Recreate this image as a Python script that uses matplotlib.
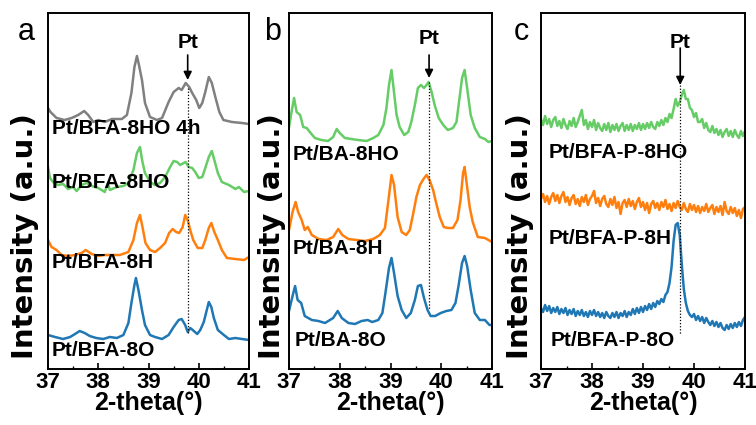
import numpy as np
import matplotlib
matplotlib.use("Agg")
import matplotlib.pyplot as plt

plt.rcParams['font.family'] = ['Liberation Sans', 'DejaVu Sans']

# ---- panel a : Pt/BFA samples (2-theta, intensity a.u.) ----
a_gray_x = [37.0, 37.05, 37.17, 37.33, 37.47, 37.6, 37.72, 37.8, 37.9, 38.0, 38.13, 38.27, 38.47, 38.57,
            38.66, 38.72, 38.77, 38.81, 38.87, 38.93, 39.03, 39.17, 39.27, 39.4, 39.5, 39.6, 39.66, 39.74,
            39.81, 39.87, 39.95, 40.01, 40.07, 40.13, 40.2, 40.26, 40.33, 40.41, 40.49, 40.66, 40.86, 41.0]
a_gray_y = [12, 8, 2, 0, 2, 5, 9, 5, -2, 0, -2, 1, 1, 5,
            27, 53, 64, 55, 40, 17, 3, 0, 2, 18, 28, 32, 30, 37,
            33, 27, 20, 12, 17, 28, 43, 37, 23, 8, 0, -2, -3, -4]

a_green_x = [37.0, 37.04, 37.1, 37.2, 37.3, 37.4, 37.5, 37.57, 37.67, 37.77, 37.87, 38.0, 38.13, 38.19,
             38.23, 38.37, 38.5, 38.6, 38.7, 38.77, 38.83, 38.88, 38.93, 39.03, 39.13, 39.23, 39.33, 39.43,
             39.5, 39.57, 39.63, 39.7, 39.74, 39.8, 39.87, 39.93, 40.0, 40.07, 40.13, 40.2, 40.26, 40.31,
             40.38, 40.46, 40.6, 40.73, 40.8, 40.9, 41.0]
a_green_y = [23, 12, 8, 5, 6, 1, 3, -1, 5, 7, 4, 2, -2, 7,
             0, 3, 4, 7, 20, 37, 43, 28, 17, 8, 5, 7, 13, 23,
             29, 28, 25, 27, 28, 23, 22, 18, 12, 13, 22, 33, 39, 30,
             17, 8, 5, 1, 3, -2, -1]

a_orange_x = [37.0, 37.07, 37.17, 37.27, 37.4, 37.54, 37.67, 37.75, 37.87, 38.0, 38.13, 38.27, 38.43, 38.6,
              38.7, 38.77, 38.83, 38.88, 38.94, 39.03, 39.13, 39.23, 39.33, 39.41, 39.48, 39.55, 39.61, 39.68,
              39.73, 39.78, 39.83, 39.89, 39.98, 40.07, 40.13, 40.2, 40.25, 40.31, 40.38, 40.46, 40.56, 40.73,
              40.9, 41.0]
a_orange_y = [18, 11, 8, 3, 2, 3, 5, 8, 4, 2, 3, 3, 3, 6,
              18, 35, 43, 31, 15, 8, 6, 10, 15, 25, 29, 26, 25, 31,
              43, 38, 28, 18, 10, 10, 18, 30, 35, 26, 18, 8, 0, -1,
              -2, 1]

a_blue_x = [37.0, 37.14, 37.3, 37.44, 37.57, 37.63, 37.73, 37.83, 37.96, 38.1, 38.23, 38.37, 38.5, 38.6,
            38.66, 38.72, 38.75, 38.8, 38.87, 38.93, 39.03, 39.13, 39.27, 39.4, 39.5, 39.6, 39.66, 39.73,
            39.78, 39.83, 39.88, 39.97, 40.03, 40.1, 40.16, 40.2, 40.25, 40.3, 40.38, 40.5, 40.6, 40.73,
            40.86, 41.0]
a_blue_y = [4, 2, 0, 2, 6, 8, 6, 3, 1, 0, 2, 1, 4, 16,
            36, 54, 61, 49, 29, 14, 4, 2, 0, 4, 12, 19, 20, 14,
            7, 11, 9, 5, 9, 17, 29, 37, 32, 21, 9, 4, 0, 1,
            0, -1]

# ---- panel b : Pt/BA samples ----
b_green_x = [37.0, 37.05, 37.1, 37.15, 37.22, 37.28, 37.35, 37.41, 37.51, 37.64, 37.77, 37.87, 37.94, 38.0,
             38.1, 38.23, 38.36, 38.53, 38.66, 38.76, 38.86, 38.92, 38.97, 39.02, 39.06, 39.12, 39.18, 39.27,
             39.35, 39.41, 39.48, 39.54, 39.6, 39.66, 39.71, 39.75, 39.81, 39.87, 39.95, 40.04, 40.13, 40.23,
             40.3, 40.36, 40.41, 40.46, 40.51, 40.58, 40.66, 40.76, 40.86, 40.93, 41.0]
b_green_y = [13, 28, 42, 28, 25, 13, 12, 8, 2, 0, -1, 3, 11, 7,
             2, 1, 0, -1, 2, 5, 15, 32, 55, 70, 52, 25, 13, 5,
             8, 18, 35, 52, 55, 52, 55, 58, 48, 35, 22, 15, 10, 12,
             18, 42, 62, 70, 52, 25, 12, 3, 1, -2, -1]

b_orange_x = [37.0, 37.07, 37.13, 37.18, 37.25, 37.31, 37.37, 37.45, 37.58, 37.74, 37.87, 37.97, 38.05, 38.17,
              38.33, 38.5, 38.66, 38.79, 38.89, 38.96, 39.02, 39.07, 39.14, 39.22, 39.31, 39.38, 39.45, 39.51,
              39.58, 39.65, 39.71, 39.77, 39.84, 39.9, 39.97, 40.05, 40.13, 40.23, 40.32, 40.38, 40.43, 40.46,
              40.51, 40.56, 40.62, 40.72, 40.86, 41.0]
b_orange_y = [10, 28, 38, 28, 20, 10, 13, 5, 1, 0, 3, 11, 5, 1,
              0, -1, 1, 5, 12, 40, 65, 55, 23, 8, 5, 10, 27, 43,
              55, 61, 65, 60, 50, 37, 23, 13, 12, 12, 20, 40, 67, 73,
              53, 33, 18, 3, 2, -2]

b_blue_x = [37.0, 37.07, 37.12, 37.17, 37.24, 37.31, 37.45, 37.58, 37.71, 37.87, 37.96, 38.04, 38.17, 38.3,
            38.43, 38.55, 38.64, 38.76, 38.84, 38.9, 38.97, 39.02, 39.07, 39.14, 39.22, 39.31, 39.4, 39.48,
            39.54, 39.6, 39.66, 39.73, 39.79, 39.88, 39.99, 40.1, 40.2, 40.28, 40.34, 40.41, 40.46, 40.51,
            40.58, 40.66, 40.76, 40.86, 40.95, 41.0]
b_blue_y = [12, 27, 37, 23, 20, 7, 3, 2, 0, 5, 12, 5, 0, -1,
            2, 3, 1, 3, 10, 30, 55, 65, 50, 27, 13, 5, 10, 23,
            37, 38, 25, 13, 7, 7, 10, 12, 13, 20, 37, 60, 67, 57,
            33, 10, 3, 3, -2, -2]

# ---- panel c : Pt/BFA-P samples (step 0.04 deg, noisy) ----
c_green_y = [8, 2, 11, 3, 8, 0, 7, 10, 1, 6, -1, 8, 2, -2, 6, 1, 9, 0, 5, 11, 17, 2, 7, -2, 5,
             0, 7, -3, 4, -1, -4, 3, -3, 4, -5, 2, -3, 3, -4, 1, 4, -4, 2, -3, 3, -4, 2, -2, 4, -3,
             3, -2, 4, -1, 5, 0, -2, 5, 1, 7, 2, 9, 5, 13, 9, 18, 28, 21, 25, 32, 37, 28, 28, 19, 17,
             10, 14, 5, 5, 8, -1, 4, -3, -5, 1, -6, -2, -8, -3, -10, -5, -2, -9, -4, -10, -3, -8, -11, -4, -9,
             -4]
c_orange_y = [10, 15, 7, 13, 5, 12, 16, 8, 14, 6, 13, 17, 7, 12, 4, 11, 14, 5, 10, 3, 12, 7, 14, 4, 10,
              13, 18, 6, 11, 3, 10, 13, 5, 2, 10, 4, 12, 1, 7, -5, 6, 9, 2, 10, 3, 8, 0, 7, 11, 2,
              7, -1, 6, -4, 5, 8, 1, 6, -1, 7, 2, 9, 0, 5, -2, 6, 1, 8, 2, -1, 6, 0, -3, 5, -1,
              4, -3, 3, -4, 2, -2, 5, -3, 1, 4, -5, 2, -3, 3, -6, 7, -2, -5, 2, -4, 1, -7, -1, -9, 0,
              2]
c_blue_y = [11, 7, 14, 8, 13, 6, 11, 7, 12, 5, 10, 6, 11, 4, 9, 5, 10, 3, 8, 4, 9, 3, 7, 2, 8,
            4, 9, 3, 7, 2, 6, 1, 7, 3, 1, 6, 2, 7, 1, 6, 3, 8, 2, 7, 4, 10, 5, 11, 6, 12,
            7, 13, 9, 15, 10, 16, 12, 18, 15, 20, 17, 24, 27, 36, 52, 78, 94, 96, 84, 55, 30, 16, 8, 4, 2,
            5, -1, 3, -2, 2, -4, 1, -3, -6, -2, -7, -3, -8, -4, -9, -11, -6, -10, -5, -9, -4, -8, -3, -7, -1,
            2]

colors = {'gray': '#808080', 'green': '#66cc66', 'orange': '#ff7f0e', 'blue': '#1f77b4'}

panels = [
    dict(letter='a', left=48, width=201,
         curves=[(a_gray_x, a_gray_y, 'gray', 249), (a_green_x, a_green_y, 'green', 179),
                 (a_orange_x, a_orange_y, 'orange', 111), (a_blue_x, a_blue_y, 'blue', 30)],
         labels=[('Pt/BFA-8HO 4h', 37.08, 241), ('Pt/BFA-8HO', 37.08, 187),
                 ('Pt/BFA-8H', 37.08, 107), ('Pt/BFA-8O', 37.08, 19)],
         pt_x=39.78, arrow=(314, 289), dots=(281, 36), pt_y=327, ylab_x=25),
    dict(letter='b', left=289, width=203,
         curves=[(b_green_x, b_green_y, 'green', 229), (b_orange_x, b_orange_y, 'orange', 129),
                 (b_blue_x, b_blue_y, 'blue', 46)],
         labels=[('Pt/BA-8HO', 37.08, 215), ('Pt/BA-8H', 37.08, 121), ('Pt/BA-8O', 37.12, 29)],
         pt_x=39.76, arrow=(314, 291), dots=(287, 59), pt_y=331, ylab_x=272),
    dict(letter='c', left=541, width=204,
         curves=[(np.linspace(37, 41, len(c_green_y)), c_green_y, 'green', 242),
                 (np.linspace(37, 41, len(c_orange_y)), c_orange_y, 'orange', 160),
                 (np.linspace(37, 41, len(c_blue_y)), c_blue_y, 'blue', 50)],
         labels=[('Pt/BFA-P-8HO', 37.14, 216), ('Pt/BFA-P-8H', 37.14, 131), ('Pt/BFA-P-8O', 37.18, 29)],
         pt_x=39.73, arrow=(321, 284), dots=(284, 34), pt_y=326, ylab_x=520),
]

W, H = 756, 425
fig = plt.figure(figsize=(W / 100, H / 100), dpi=100)

for p in panels:
    ax = fig.add_axes([p['left'] / W, (H - 369) / H, p['width'] / W, 356 / H])
    for xs, ys, c, off in p['curves']:
        ax.plot(xs, np.array(ys) + off, color=colors[c], lw=1.8)
    for txt, x, y in p['labels']:
        ax.text(x, y, txt, fontsize=15, fontweight='bold', va='center', ha='left')
    # Pt marker
    ax.plot([p['pt_x'], p['pt_x']], p['dots'], color='k', lw=0.9, ls=(0, (1, 1.5)))
    ax.annotate('', xy=(p['pt_x'], p['arrow'][1]), xytext=(p['pt_x'], p['arrow'][0]),
                arrowprops=dict(arrowstyle='-|>', color='k', lw=1.2, mutation_scale=12,
                                shrinkA=0, shrinkB=0))
    ax.text(p['pt_x'], p['pt_y'], 'Pt', fontsize=15, fontweight='bold', ha='center', va='center')

    ax.set_xlim(37, 41)
    ax.set_ylim(0, 356)
    ax.set_yticks([])
    ax.set_xticks([37, 38, 39, 40, 41])
    ax.set_xticks(np.arange(37.5, 41, 1), minor=True)
    ax.tick_params(axis='x', which='major', direction='in', length=4, width=1.2, pad=2, labelsize=16)
    ax.tick_params(axis='x', which='minor', direction='in', length=2.5, width=1.0)
    for lab in ax.get_xticklabels():
        lab.set_fontweight('bold')
    for s in ax.spines.values():
        s.set_linewidth(1.4)
    ax.set_xlabel('2-theta(°)', fontsize=18, fontweight='bold', labelpad=-1)

    fig.text(p['ylab_x'] / W, (H - 236) / H, 'Intensity (a.u.)', rotation=90, fontsize=21,
             fontweight='bold', family='DejaVu Sans', ha='center', va='center')
    fig.text((p['ylab_x'] + 1) / W, (H - 32) / H, p['letter'], fontsize=22, ha='center', va='center')

fig.savefig('out.png', dpi=100)
